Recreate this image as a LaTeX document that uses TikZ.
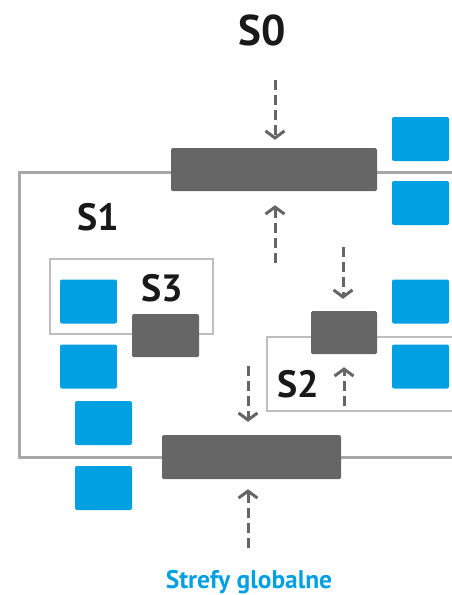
\documentclass[tikz,border=0pt]{standalone}
\usepackage{fontspec}
\setmainfont{PT Sans}
\usetikzlibrary{arrows.meta}
\definecolor{zoneblue}{RGB}{0,160,227}
\definecolor{bardark}{RGB}{102,102,102}
\definecolor{framegray}{RGB}{168,168,168}
\definecolor{boxgray}{RGB}{190,190,190}

\tikzset{
  bar/.style={fill=bardark, rounded corners=1.5pt, inner sep=0pt},
  zone/.style={fill=zoneblue, rounded corners=2pt, minimum width=57pt, minimum height=44pt, inner sep=0pt},
  flow/.style={draw=bardark, line width=3pt, dash pattern=on 10pt off 5pt, -{Straight Barb[length=7pt,width=19pt]}},
  title/.style={font=\bfseries\fontsize{43}{43}\selectfont, text=black!90},
  tag/.style={font=\bfseries\fontsize{38}{38}\selectfont, text=black!90}
}

\begin{document}
\begin{tikzpicture}[x=1pt,y=-1pt]
\useasboundingbox (0,0) rectangle (452,595);
% frame of zone S1
\draw[framegray, line width=3pt] (452,172) -- (19,172) -- (19,457) -- (452,457);
% inner boxes
\draw[boxgray, line width=1.2pt] (50,259) rectangle (213,334);
\draw[boxgray, line width=1.2pt] (452,337) -- (267,337) -- (267,411) -- (452,411);
% bars
\node[bar, minimum width=206pt, minimum height=43pt] (bar0) at (274,169.5) {};
\node[bar, minimum width=179pt, minimum height=44pt] (bar1) at (251.5,457) {};
\node[bar, minimum width=67pt, minimum height=43pt] (bar3) at (165.5,335.5) {};
\node[bar, minimum width=66pt, minimum height=43pt] (bar2) at (344,332.5) {};
% blue zones
\node[zone] (z1) at (420.5,139) {};
\node[zone] (z2) at (420.5,203) {};
\node[zone] (z3) at (420.5,301.5) {};
\node[zone] (z4) at (420.5,366.5) {};
\node[zone] (z5) at (88.5,301.5) {};
\node[zone] (z6) at (88.5,366.5) {};
\node[zone] (z7) at (103.5,423) {};
\node[zone] (z8) at (103.5,488) {};
% labels
\node[title] (s0) at (262,30) {S0};
\node[tag] (s1) at (98,217) {S1};
\node[tag] (s3) at (162,288) {S3};
\node[tag] (s2) at (298,384) {S2};
\node[anchor=base, text=zoneblue, font=\bfseries\fontsize{25.5}{26}\selectfont] (glob) at (249,588) {Strefy globalne};
% arrows
\coordinate (a0) at (275,80);
\coordinate (a1) at (275,263);
\coordinate (a2) at (343,247);
\coordinate (a3) at (344,406);
\coordinate (a4) at (248,366);
\coordinate (a5) at (248,548);
\draw[flow, shorten >=8pt] (a0) -- (a0 |- bar0.north);
\draw[flow, shorten >=14pt] (a1) -- (a1 |- bar0.south);
\draw[flow, shorten >=12pt] (a2) -- (a2 |- bar2.north);
\draw[flow, shorten >=13pt] (a3) -- (a3 |- bar2.south);
\draw[flow, shorten >=13pt] (a4) -- (a4 |- bar1.north);
\draw[flow, shorten >=10pt] (a5) -- (a5 |- bar1.south);
\end{tikzpicture}
\end{document}
